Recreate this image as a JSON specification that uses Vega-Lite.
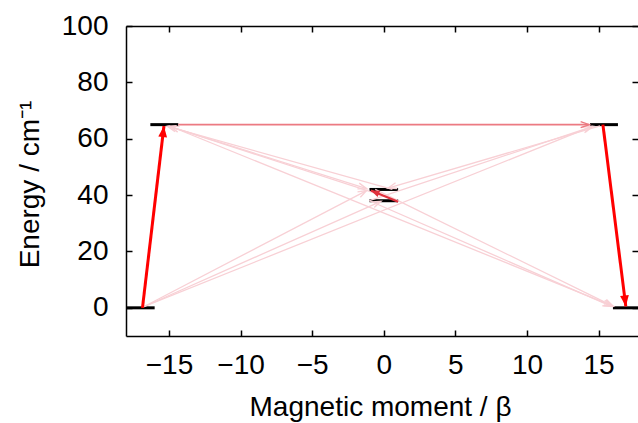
{
  "$schema": "https://vega.github.io/schema/vega-lite/v6.json",
  "width": 512,
  "height": 310,
  "autosize": "none",
  "padding": {"left": 126, "top": 26, "right": 0, "bottom": 87},
  "config": {
    "view": {"stroke": null},
    "font": "Liberation Sans",
    "axis": {
      "grid": false,
      "domainColor": "#000",
      "domainWidth": 1.5,
      "tickColor": "#000",
      "tickWidth": 1.5,
      "tickSize": -6,
      "labelFont": "Liberation Sans",
      "labelFontSize": 28,
      "labelColor": "#000",
      "titleFont": "Liberation Sans",
      "titleFontSize": 28,
      "titleFontWeight": "normal",
      "titleColor": "#000"
    }
  },
  "datasets": {
    "levels": [
      {"m1": -18, "m2": -16, "e": 0},
      {"m1": 16, "m2": 18, "e": 0},
      {"m1": -16.3, "m2": -14.35, "e": 65},
      {"m1": 14.4, "m2": 16.35, "e": 65},
      {"m1": -1, "m2": 1, "e": 42},
      {"m1": -1, "m2": 1, "e": 38}
    ],
    "arrows": [
      {"x1": -16.8, "y1": 0.3, "x2": 14.5, "y2": 64.3, "kind": "weak"},
      {"x1": -16.8, "y1": 0.3, "x2": -1.2, "y2": 41.6, "kind": "weak"},
      {"x1": -16.8, "y1": 0.3, "x2": -0.2, "y2": 37.8, "kind": "weak"},
      {"x1": -15.1, "y1": 64.6, "x2": -1.2, "y2": 42.3, "kind": "weak"},
      {"x1": -15.0, "y1": 64.6, "x2": 16.0, "y2": 0.6, "kind": "weak"},
      {"x1": 1.0, "y1": 38, "x2": -14.9, "y2": 64.3, "kind": "weak"},
      {"x1": 0.6, "y1": 42, "x2": -15.1, "y2": 64.4, "kind": "weak"},
      {"x1": 15.1, "y1": 64.6, "x2": 0.3, "y2": 42.5, "kind": "weak"},
      {"x1": -1.0, "y1": 38, "x2": 14.6, "y2": 64.4, "kind": "weak"},
      {"x1": -0.6, "y1": 42, "x2": 16.0, "y2": 0.6, "kind": "weak"},
      {"x1": -1.0, "y1": 38, "x2": 15.9, "y2": 0.5, "kind": "weak"},
      {"x1": -14.35, "y1": 65, "x2": 14.35, "y2": 65, "kind": "mid"},
      {"x1": 1.0, "y1": 37.6, "x2": -0.9, "y2": 41.6, "kind": "small"},
      {"x1": -16.85, "y1": 0, "x2": -15.35, "y2": 64.5, "kind": "strong"},
      {"x1": 15.3, "y1": 65, "x2": 16.9, "y2": 0.5, "kind": "strong"}
    ]
  },
  "layer": [
    {
      "data": {"name": "levels"},
      "mark": {"type": "rule", "color": "#000", "strokeWidth": 3, "clip": true},
      "encoding": {
        "x": {
          "field": "m1", "type": "quantitative",
          "scale": {"domain": [-18, 17.75], "nice": false, "zero": false},
          "axis": {"orient": "bottom", "values": [-15, -10, -5, 0, 5, 10, 15], "title": "Magnetic moment / β", "labelPadding": 21, "titleX": 254, "titleY": 79, "titleBaseline": "alphabetic", "titleAnchor": "middle"}
        },
        "x2": {"field": "m2"},
        "y": {
          "field": "e", "type": "quantitative",
          "scale": {"domain": [-10, 100], "nice": false, "zero": false},
          "axis": {"orient": "left", "values": [0, 20, 40, 60, 80, 100], "title": "Energy / cm⁻¹", "labelPadding": 24, "titleX": -88, "titleY": 158, "titleBaseline": "alphabetic", "titleAngle": -90, "titleAlign": "center"}
        }
      }
    },
    {
      "data": {"name": "arrows"},
      "transform": [{"filter": "datum.kind === 'weak'"}],
      "mark": {"type": "rule", "color": "#f8d0d5", "strokeWidth": 1.3},
      "encoding": {
        "x": {
          "field": "x1", "type": "quantitative",
          "scale": {"domain": [-18, 17.75], "nice": false, "zero": false},
          "axis": {"orient": "top", "values": [-15, -10, -5, 0, 5, 10, 15], "labels": false, "title": null, "domain": true}
        },
        "x2": {"field": "x2"},
        "y": {
          "field": "y1", "type": "quantitative",
          "scale": {"domain": [-10, 100], "nice": false, "zero": false},
          "axis": {"orient": "right", "values": [0, 20, 40, 60, 80, 100], "labels": false, "title": null, "domain": false}
        },
        "y2": {"field": "y2"}
      }
    },
    {
      "data": {"name": "arrows"},
      "transform": [{"filter": "datum.kind === 'mid'"}],
      "mark": {"type": "rule", "color": "#ec7a82", "strokeWidth": 1.6},
      "encoding": {
        "x": {"field": "x1", "type": "quantitative", "axis": null},
        "x2": {"field": "x2"},
        "y": {"field": "y1", "type": "quantitative", "axis": null},
        "y2": {"field": "y2"}
      }
    },
    {
      "data": {"name": "arrows"},
      "transform": [{"filter": "datum.kind === 'small'"}],
      "mark": {"type": "rule", "color": "#e0303c", "strokeWidth": 2.2},
      "encoding": {
        "x": {"field": "x1", "type": "quantitative", "axis": null},
        "x2": {"field": "x2"},
        "y": {"field": "y1", "type": "quantitative", "axis": null},
        "y2": {"field": "y2"}
      }
    },
    {
      "data": {"name": "arrows"},
      "transform": [{"filter": "datum.kind === 'strong'"}],
      "mark": {"type": "rule", "color": "#ff0000", "strokeWidth": 3},
      "encoding": {
        "x": {"field": "x1", "type": "quantitative", "axis": null},
        "x2": {"field": "x2"},
        "y": {"field": "y1", "type": "quantitative", "axis": null},
        "y2": {"field": "y2"}
      }
    },
    {
      "data": {"name": "arrows"},
      "transform": [
        {"filter": "datum.kind === 'weak' || datum.kind === 'mid'"},
        {"calculate": "atan2((datum.x2 - datum.x1) * 14.32, (datum.y2 - datum.y1) * 2.818) * 180 / PI", "as": "ang"}
      ],
      "mark": {"type": "point", "shape": "M-0.35,1L0,0L0.35,1", "filled": false, "size": 300, "strokeWidth": 1.4, "opacity": 1},
      "encoding": {
        "x": {"field": "x2", "type": "quantitative", "axis": null},
        "y": {"field": "y2", "type": "quantitative", "axis": null},
        "angle": {"field": "ang", "type": "quantitative", "scale": null},
        "color": {"field": "kind", "type": "nominal", "scale": {"domain": ["weak", "mid"], "range": ["#f8d0d5", "#ec7a82"]}, "legend": null}
      }
    },
    {
      "data": {"name": "arrows"},
      "transform": [
        {"filter": "datum.kind === 'small' || datum.kind === 'strong'"},
        {"calculate": "atan2((datum.x2 - datum.x1) * 14.32, (datum.y2 - datum.y1) * 2.818) * 180 / PI", "as": "ang"}
      ],
      "mark": {"type": "point", "shape": "M0,0L-0.4,1L0.4,1Z", "filled": true, "opacity": 1, "strokeWidth": 0},
      "encoding": {
        "x": {"field": "x2", "type": "quantitative", "axis": null},
        "y": {"field": "y2", "type": "quantitative", "axis": null},
        "angle": {"field": "ang", "type": "quantitative", "scale": null},
        "size": {"field": "kind", "type": "nominal", "scale": {"domain": ["small", "strong"], "range": [300, 480]}, "legend": null},
        "color": {"field": "kind", "type": "nominal", "scale": {"domain": ["small", "strong"], "range": ["#e0303c", "#ff0000"]}, "legend": null}
      }
    }
  ],
  "resolve": {"axis": {"x": "independent", "y": "independent"}, "scale": {"color": "independent", "size": "independent"}}
}
